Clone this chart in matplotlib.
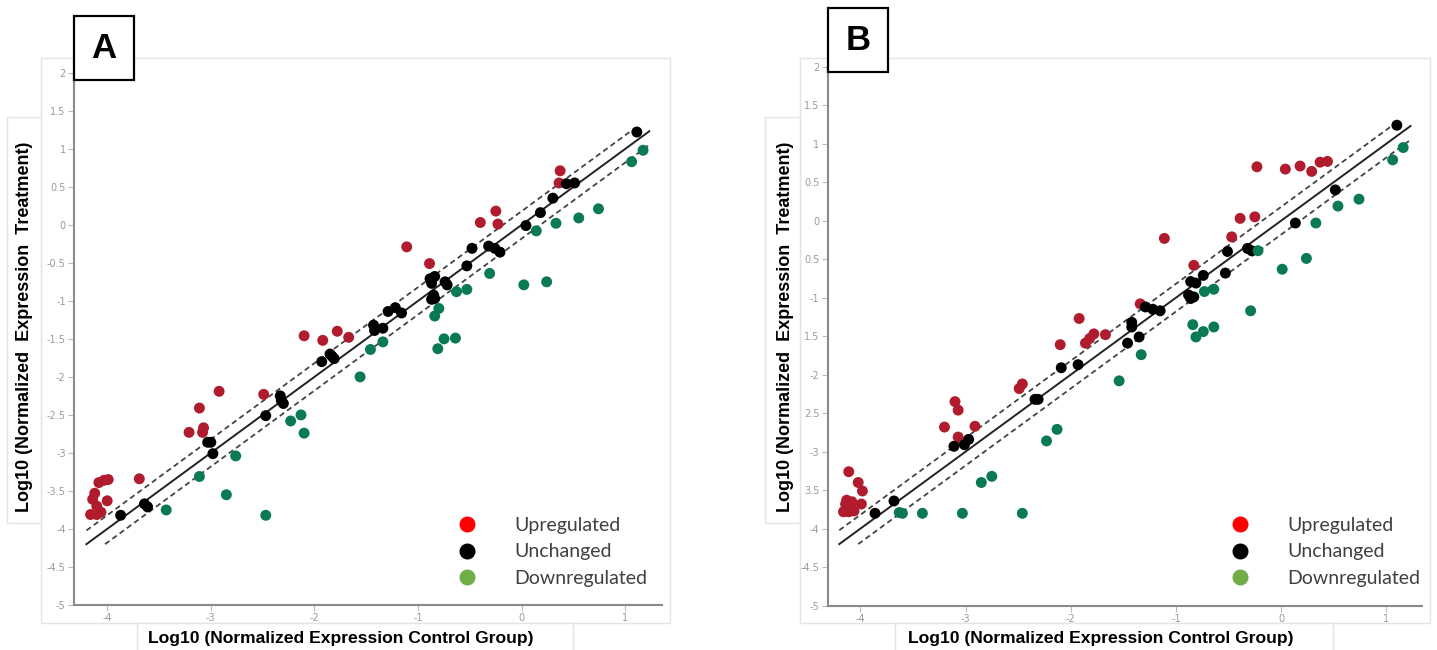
import numpy as np
import matplotlib
import matplotlib.pyplot as plt
from matplotlib.lines import Line2D
from matplotlib.patches import Rectangle

matplotlib.rcParams['axes.unicode_minus'] = False

# ---- panel A: log10 normalized expression (control, treatment) ----
a_up_x = [-2.10, -1.92, -1.78, -1.67, -2.92, -2.49, -3.11, -3.21, -3.07, -3.08,
          -3.69, -4.08, -4.03, -3.99, -4.12, -4.14, -4.00, -4.10, -4.16, -4.10,
          -4.06, 0.37, 0.36, -0.25, -0.40, -0.23, -1.11, -0.89]
a_up_y = [-1.46, -1.52, -1.40, -1.48, -2.19, -2.23, -2.41, -2.73, -2.67, -2.73,
          -3.34, -3.39, -3.36, -3.35, -3.53, -3.61, -3.63, -3.70, -3.81, -3.81,
          -3.78, 0.71, 0.55, 0.18, 0.03, 0.01, -0.29, -0.51]

a_same_x = [1.11, 0.43, 0.51, 0.30, 0.18, 0.04, -0.48, -0.32, -0.26, -0.21,
            -0.53, -0.885, -0.84, -0.87, -0.74, -0.72, -0.85, -0.84, -0.87, -1.29,
            -1.22, -1.16, -1.43, -1.42, -1.34, -1.93, -1.85, -1.83, -1.81, -2.33,
            -2.32, -2.30, -2.47, -3.03, -3.00, -2.98, -3.64, -3.61, -3.87]
a_same_y = [1.22, 0.54, 0.55, 0.35, 0.16, -0.01, -0.31, -0.28, -0.31, -0.36,
            -0.54, -0.71, -0.68, -0.77, -0.75, -0.79, -0.925, -0.97, -0.98, -1.14,
            -1.09, -1.16, -1.32, -1.39, -1.36, -1.80, -1.70, -1.73, -1.76, -2.25,
            -2.31, -2.35, -2.51, -2.86, -2.86, -3.01, -3.67, -3.71, -3.82]

a_down_x = [1.17, 1.06, 0.74, 0.55, 0.33, 0.14, -0.31, 0.02, 0.24, -0.63,
            -0.53, -0.80, -0.84, -0.75, -0.64, -0.81, -1.34, -1.46, -1.56, -2.23,
            -2.13, -2.10, -2.76, -3.11, -2.85, -3.43, -2.47]
a_down_y = [0.98, 0.83, 0.21, 0.09, 0.02, -0.08, -0.64, -0.79, -0.75, -0.88,
            -0.85, -1.10, -1.20, -1.50, -1.49, -1.63, -1.54, -1.64, -2.00, -2.58,
            -2.50, -2.74, -3.04, -3.31, -3.55, -3.75, -3.82]

# ---- panel B ----
b_up_x = [-1.92, -2.10, -1.86, -1.82, -1.78, -1.67, -2.49, -2.46, -3.10, -3.07,
          -3.20, -2.91, -3.07, -4.11, -4.02, -3.98, -4.13, -4.08, -4.14, -3.99,
          -4.16, -4.11, -4.06, -4.13, 0.37, 0.44, 0.29, 0.18, 0.04, -0.23,
          -0.25, -0.39, -0.47, -1.11, -0.83, -1.34]
b_up_y = [-1.27, -1.61, -1.59, -1.53, -1.47, -1.48, -2.18, -2.12, -2.35, -2.46,
          -2.68, -2.67, -2.81, -3.26, -3.40, -3.51, -3.63, -3.65, -3.68, -3.68,
          -3.78, -3.78, -3.77, -3.72, 0.76, 0.77, 0.64, 0.71, 0.67, 0.70,
          0.05, 0.03, -0.21, -0.23, -0.58, -1.08]

b_same_x = [1.10, 0.515, 0.135, -0.51, -0.32, -0.28, -0.53, -0.74, -0.86, -0.81,
            -0.88, -0.83, -0.86, -1.29, -1.22, -1.15, -1.42, -1.42, -1.46, -1.35,
            -2.09, -1.93, -2.34, -2.31, -3.11, -3.01, -2.97, -3.68, -3.86]
b_same_y = [1.24, 0.40, -0.03, -0.40, -0.36, -0.39, -0.68, -0.71, -0.79, -0.81,
            -0.965, -0.99, -1.01, -1.12, -1.15, -1.17, -1.32, -1.38, -1.59, -1.51,
            -1.91, -1.87, -2.32, -2.32, -2.93, -2.91, -2.84, -3.64, -3.80]

b_down_x = [1.16, 1.06, 0.74, 0.54, 0.33, -0.22, 0.24, 0.01, -0.29, -0.73,
            -0.64, -0.84, -0.74, -0.81, -0.64, -1.33, -1.54, -2.23, -2.13, -2.85,
            -2.75, -3.63, -3.60, -3.41, -3.03, -2.46]
b_down_y = [0.95, 0.79, 0.28, 0.19, -0.03, -0.39, -0.49, -0.63, -1.17, -0.92,
            -0.89, -1.35, -1.44, -1.51, -1.38, -1.74, -2.08, -2.86, -2.71, -3.40,
            -3.32, -3.79, -3.80, -3.80, -3.80, -3.80]

x_ticks = [-4, -3, -2, -1, 0, 1]
x_tick_labels = ['-4', '-3', '-2', '-1', '0', '1']
y_ticks = np.arange(2, -5.01, -0.5)
y_tick_labels_a = ['2', '1.5', '1', '0.5', '0', '-0.5', '-1', '-1.5', '-2',
                   '-2.5', '-3', '-3.5', '-4', '-4.5', '-5']
y_tick_labels_b = ['2', '1.5', '1', '0.5', '0', '0.5', '-1', '1.5', '-2',
                   '2.5', '-3', '3.5', '-4', '-4.5', '-5']

legend_labels = ['Upregulated', 'Unchanged', 'Downregulated']
legend_colors = ['#ff0000', '#000000', '#70ad47']
dot_colors = ['#b01c2e', '#000000', '#0a7a55']

line_lo, line_hi = -4.2, 1.23   # extent of the y = x guide
band = 0.18                      # offset of the dashed fold-change lines

W, H = 1437, 650


def fig_box(x0, y0, x1, y1):
    """pixel box (top-left origin) -> figure fraction rect"""
    return [x0 / W, 1 - y1 / H, (x1 - x0) / W, (y1 - y0) / H]


def frame(fig, x0, y0, x1, y1, fc='none', ec='#e4e4e4'):
    fig.add_artist(Rectangle((x0 / W, 1 - y1 / H), (x1 - x0) / W, (y1 - y0) / H,
                             transform=fig.transFigure, fc=fc, ec=ec, lw=1,
                             zorder=0))


def draw_panel(ax, xlim, groups, ytl, legend_anchor):
    ax.set_xlim(*xlim)
    ax.set_ylim(-5, 2)

    # y = x with the two dashed fold-change limits
    xs = np.array([line_lo, line_hi])
    ax.plot(xs, xs, color='#222222', lw=1.4, zorder=1)
    xu = np.array([line_lo, line_hi - band])
    ax.plot(xu, xu + band, color='#444444', lw=1.3, ls=(0, (3, 2)), zorder=1)
    xd = np.array([line_lo + band, line_hi])
    ax.plot(xd, xd - band, color='#444444', lw=1.3, ls=(0, (3, 2)), zorder=1)

    for (gx, gy), c in zip(groups, dot_colors):
        ax.scatter(gx, gy, s=62, color=c, edgecolors='none', zorder=3)

    ax.set_xticks(x_ticks)
    ax.set_xticklabels(x_tick_labels)
    ax.set_yticks(y_ticks)
    ax.set_yticklabels(ytl)
    ax.tick_params(colors='#bbbbbb', labelcolor='#9a9a9a', labelsize=7,
                   length=4, width=0.8, pad=2)
    for s in ['top', 'right']:
        ax.spines[s].set_visible(False)
    for s in ['left', 'bottom']:
        ax.spines[s].set_color('#8a8a8a')
        ax.spines[s].set_linewidth(1.5)

    handles = [Line2D([], [], marker='o', ls='', color=c, markersize=10.5)
               for c in legend_colors]
    leg = ax.legend(handles, legend_labels, loc='upper left',
                    bbox_to_anchor=legend_anchor, frameon=False,
                    handlelength=1.0, handletextpad=1.95, labelspacing=0.5,
                    borderpad=0, borderaxespad=0,
                    prop={'family': 'Lato', 'size': 14})
    for t in leg.get_texts():
        t.set_color('#404040')


fig = plt.figure(figsize=(14.37, 6.5), dpi=100)

# light frames and label backings
frame(fig, 40.7, 58, 670, 623)
frame(fig, 7, 117, 40.7, 523, fc='white')
frame(fig, 137, 623, 573, 652, fc='white')
frame(fig, 800, 58, 1430, 623)
frame(fig, 765, 117, 800, 523, fc='white')
frame(fig, 895, 623, 1333, 652, fc='white')

ax_a = fig.add_axes(fig_box(74, 72.7, 661.7, 605))
ax_b = fig.add_axes(fig_box(827.7, 66.7, 1421.7, 605.7))

draw_panel(ax_a, (-4.32, 1.35),
           [(a_up_x, a_up_y), (a_same_x, a_same_y), (a_down_x, a_down_y)],
           y_tick_labels_a, (0.652, 0.166))
draw_panel(ax_b, (-4.31, 1.336),
           [(b_up_x, b_up_y), (b_same_x, b_same_y), (b_down_x, b_down_y)],
           y_tick_labels_b, (0.677, 0.165))

for cx, cy in [(25, 327), (785, 327)]:
    fig.text(cx / W, 1 - cy / H, 'Log10 (Normalized  Expression  Treatment)',
             rotation=90, ha='center', va='center', family='Liberation Sans',
             weight='bold', size=13)
for cx in [341, 1101]:
    fig.text(cx / W, 1 - 638 / H, 'Log10 (Normalized Expression Control Group)',
             ha='center', va='center', family='Liberation Sans',
             weight='bold', size=12.6)

# panel letters in boxes
for letter, (x0, y0, x1, y1) in [('A', (74, 16, 134.3, 80)),
                                 ('B', (827.7, 8.3, 887.7, 71.7))]:
    fig.add_artist(Rectangle((x0 / W, 1 - y1 / H), (x1 - x0) / W, (y1 - y0) / H,
                             transform=fig.transFigure, fc='white', ec='black',
                             lw=1.6, zorder=5))
    fig.text((x0 + x1) / 2 / W, 1 - (y0 + y1) / 2 / H, letter, ha='center',
             va='center', family='Liberation Sans', weight='bold', size=25,
             zorder=6)

fig.savefig('out.png', dpi=100)
